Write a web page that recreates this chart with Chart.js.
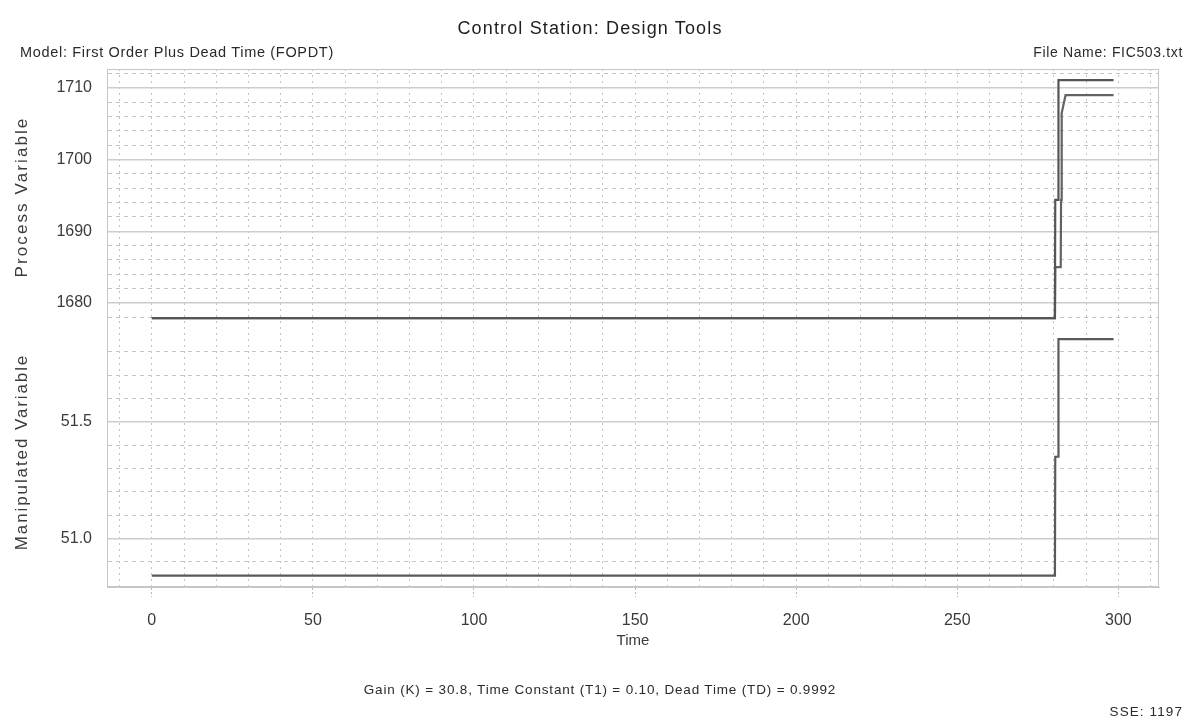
<!DOCTYPE html>
<html>
<head>
<meta charset="utf-8">
<script src="https://cdn.jsdelivr.net/npm/chart.js@4.4.0/dist/chart.umd.min.js"></script>
<style>
  html, body { margin:0; padding:0; background:#ffffff; width:1191px; height:724px; overflow:hidden; }
  #wrap { position:relative; width:1191px; height:724px; }
  canvas { position:absolute; left:0; top:0; }
  .t { position:absolute; font-family:"Liberation Sans", Arial, sans-serif; color:#2a2a2a; white-space:nowrap; }
  .yt { position:absolute; width:300px; height:20px; line-height:20px; text-align:center; font-size:17px; color:#3a3a3a;
        transform:rotate(-90deg); transform-origin:50% 50%; }
</style>
</head>
<body>
<div id="wrap">
  <canvas id="c" width="1191" height="724"></canvas>
  <div class="t" style="left:290px; width:600px; top:17px; font-size:18px; line-height:22px; text-align:center; color:#1e1e1e; letter-spacing:1.15px;">Control Station: Design Tools</div>
  <div class="t" style="left:20px; top:44px; font-size:14.5px; line-height:17px; letter-spacing:0.68px;">Model: First Order Plus Dead Time (FOPDT)</div>
  <div class="t" style="right:8px; top:44px; font-size:14px; line-height:17px; text-align:right; letter-spacing:0.65px;">File Name: FIC503.txt</div>
  <div class="t" style="left:300px; width:600px; top:681px; font-size:13.5px; line-height:17px; text-align:center; letter-spacing:0.83px;">Gain (K) = 30.8, Time Constant (T1) = 0.10, Dead Time (TD) = 0.9992</div>
  <div class="t" style="right:8px; top:703px; font-size:13.5px; line-height:17px; text-align:right; letter-spacing:1.1px;">SSE: 1197</div>
  <div class="t yt" style="left:-128px; top:187px; letter-spacing:2.1px;">Process Variable</div>
  <div class="t yt" style="left:-128px; top:442px; letter-spacing:1.9px;">Manipulated Variable</div>
</div>
<script>
// ---- data ----
const pvTime      = [0, 280.3, 280.4, 281.3, 281.4, 298.5];
const pvMeasured  = [1677.9, 1677.9, 1694.4, 1694.4, 1711.1, 1711.1];

const modelTime   = [0, 280.3, 280.4, 282.1, 282.2, 282.4, 283.6, 298.5];
const pvModel     = [1677.9, 1677.9, 1685.0, 1685.0, 1694.4, 1706.5, 1709.0, 1709.0];

const mvTime      = [0, 280.3, 280.4, 281.3, 281.4, 298.5];
const mvValues    = [50.84, 50.84, 51.35, 51.35, 51.855, 51.855];

// tick values (minor + major) and labelled ones
const xTicks      = [-10, 0, 10, 20, 30, 40, 50, 60, 70, 80, 90, 100, 110, 120, 130, 140, 150, 160, 170, 180, 190, 200, 210, 220, 230, 240, 250, 260, 270, 280, 290, 300, 310];
const xTickLabels = [0, 50, 100, 150, 200, 250, 300];
const pvTicks     = [1678, 1680, 1682, 1684, 1686, 1688, 1690, 1692, 1694, 1696, 1698, 1700, 1702, 1704, 1706, 1708, 1710, 1712];
const pvTickLabels= [1680, 1690, 1700, 1710];
const mvTicks     = [50.9, 51.0, 51.1, 51.2, 51.3, 51.4, 51.5, 51.6, 51.7, 51.8];
const mvTickLabels= [51.0, 51.5];

// ---- styling ----
const FONT = '"Liberation Sans", Arial, sans-serif';
const TXT = '#3a3a3a';
const near = (a, b) => Math.abs(a - b) < 1e-6;
const isLabelled = (list, v) => list.some(l => near(l, v));

const frame = {
  id: 'frame',
  beforeDatasetsDraw(chart) {
    const {ctx, chartArea: a} = chart;
    ctx.save();
    ctx.strokeStyle = '#c6c6c6';
    ctx.lineWidth = 1;
    ctx.strokeRect(a.left + 0.5, a.top + 0.5, a.width - 1, a.height - 1);
    ctx.restore();
  }
};

function yAxis(ticksList, labelList, weight, min, max, fmt) {
  return {
    type: 'linear',
    position: 'left',
    stack: 'panels',
    stackWeight: weight,
    min: min,
    max: max,
    afterBuildTicks: ax => { ax.ticks = ticksList.map(v => ({value: v})); },
    afterFit: ax => { ax.width = 97; },
    ticks: {
      autoSkip: false,
      padding: 15,
      color: TXT,
      font: {family: FONT, size: 16},
      callback: v => isLabelled(labelList, v) ? fmt(v) : ''
    },
    grid: {
      drawTicks: false,
      color: c => (c.tick && isLabelled(labelList, c.tick.value)) ? '#cdcdcd' : '#c4c4c4',
      lineWidth: c => (c.tick && isLabelled(labelList, c.tick.value)) ? 1.6 : 1
    },
    border: {
      display: true,
      color: '#c6c6c6',
      dash: c => (c.tick && !isLabelled(labelList, c.tick.value)) ? [4, 4] : []
    },
    title: { display: false }
  };
}

const ctx = document.getElementById('c').getContext('2d');
new Chart(ctx, {
  type: 'line',
  data: {
    datasets: [
      {
        label: 'Measured PV',
        data: pvTime.map((t, i) => ({x: t, y: pvMeasured[i]})),
        xAxisID: 'x', yAxisID: 'yPV',
        borderColor: '#555555', borderWidth: 2.2, pointRadius: 0, tension: 0, fill: false
      },
      {
        label: 'Model PV',
        data: modelTime.map((t, i) => ({x: t, y: pvModel[i]})),
        xAxisID: 'x', yAxisID: 'yPV',
        borderColor: '#636363', borderWidth: 2.2, pointRadius: 0, tension: 0, fill: false
      },
      {
        label: 'MV',
        data: mvTime.map((t, i) => ({x: t, y: mvValues[i]})),
        xAxisID: 'x', yAxisID: 'yMV',
        borderColor: '#5a5a5a', borderWidth: 2.2, pointRadius: 0, tension: 0, fill: false
      }
    ]
  },
  options: {
    responsive: false,
    devicePixelRatio: 1,
    animation: false,
    events: [],
    layout: { padding: {left: 10, right: 32, top: 69, bottom: 74} },
    plugins: { legend: {display: false}, tooltip: {enabled: false}, title: {display: false} },
    scales: {
      x: {
        type: 'linear',
        position: 'bottom',
        min: -13.9,
        max: 312.6,
        afterBuildTicks: ax => { ax.ticks = xTicks.map(v => ({value: v})); },
        afterFit: ax => { ax.height = 63; },
        ticks: {
          autoSkip: false,
          maxRotation: 0,
          padding: 14,
          color: TXT,
          font: {family: FONT, size: 16},
          callback: v => isLabelled(xTickLabels, v) ? String(v) : ''
        },
        grid: {
          drawTicks: true,
          tickLength: 10,
          color: '#c4c4c4',
          lineWidth: 1,
          tickColor: c => (c.tick && isLabelled(xTickLabels, c.tick.value)) ? '#b8b8b8' : 'rgba(0,0,0,0)',
          tickBorderDash: [2, 2]
        },
        border: {
          display: true,
          color: '#c6c6c6',
          dash: c => c.tick ? [2, 4] : []
        },
        title: {
          display: true,
          text: 'Time',
          color: TXT,
          font: {family: FONT, size: 15},
          padding: {top: 0, bottom: 0}
        }
      },
      yMV: yAxis(mvTicks, mvTickLabels, 257, 50.791, 51.894, v => v.toFixed(1)),
      yPV: yAxis(pvTicks, pvTickLabels, 261, 1676.23, 1712.65, v => String(v))
    }
  },
  plugins: [frame]
});
</script>
</body>
</html>
